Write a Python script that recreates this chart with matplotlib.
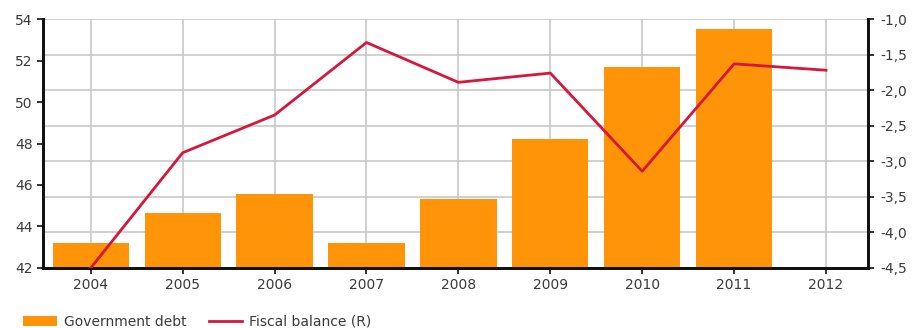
import numpy as np
from matplotlib import pyplot as plt
from matplotlib.ticker import FixedLocator, FuncFormatter

years = ['2004', '2005', '2006', '2007', '2008', '2009', '2010', '2011', '2012']
debt = [43.2, 44.65, 45.57, 43.2, 45.31, 48.2, 51.7, 53.5, None]
balance = [-4.5, -2.88, -2.35, -1.33, -1.89, -1.76, -3.14, -1.63, -1.72]

ORANGE = '#ff9408'
RED = '#d5163d'
TEXT = '#3a3a3a'

plt.rcParams['font.family'] = ['DejaVu Sans']

fig = plt.figure(figsize=(9.14, 3.28), dpi=100)
ax = fig.add_axes([0.047, 0.183, 0.903, 0.759])
ax2 = ax.twinx()

x = np.arange(len(years))
bar_x = [i for i, v in zip(x, debt) if v is not None]
bar_h = [v - 42 for v in debt if v is not None]
ax.bar(bar_x, bar_h, bottom=42, width=0.83, color=ORANGE, zorder=2,
       label='Government debt')
ax2.plot(x, balance, color=RED, lw=2, zorder=3, label='Fiscal balance (R)')

ax.set_xlim(-0.52, len(years) - 1 + 0.46)
ax.set_ylim(42, 54)
ax2.set_ylim(-4.5, -1.0)
ax.set_xticks(x)
ax.set_xticklabels(years)
ax.set_yticks(np.arange(42, 55, 2))
ax2.set_yticks(np.arange(-4.5, -0.99, 0.5))
ax2.yaxis.set_major_formatter(FuncFormatter(lambda v, p: f'{v:.1f}'.replace('.', ',')))

# horizontal grid follows the right-hand scale, drawn under the bars
ax.yaxis.remove_overlapping_locs = False
ax.yaxis.set_minor_locator(FixedLocator(np.linspace(42, 54, 8)))
ax.grid(True, which='minor', axis='y', color='#c8c8c8', lw=1.2, zorder=0)
ax.grid(True, which='major', axis='x', color='#c8c8c8', lw=1.2, zorder=0)
ax.set_axisbelow(True)

for a in (ax, ax2):
    a.spines['top'].set_visible(False)
    for s in ('left', 'right', 'bottom'):
        a.spines[s].set_linewidth(2)
        a.spines[s].set_color('#111111')
ax.tick_params(axis='y', which='minor', length=0)
ax.tick_params(axis='both', which='major', direction='out', length=4, width=1.2,
               color='#111111', labelsize=10, labelcolor=TEXT)
ax2.tick_params(axis='y', direction='out', length=4, width=1.2, color='#111111',
                labelsize=10, labelcolor=TEXT, pad=4.5)

h1, l1 = ax.get_legend_handles_labels()
h2, l2 = ax2.get_legend_handles_labels()
fig.legend(h1 + h2, l1 + l2, loc='lower left', bbox_to_anchor=(0.012, -0.04),
           ncol=2, frameon=False, fontsize=10, handlelength=2.4, handleheight=0.75,
           handletextpad=0.5, columnspacing=1.6, labelcolor=TEXT)

fig.savefig('out.png', dpi=100)
